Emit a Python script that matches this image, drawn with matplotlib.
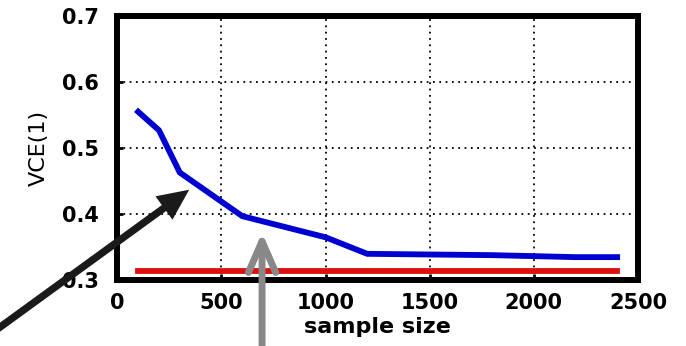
import matplotlib.pyplot as plt

# -----------------------------------
# Data
# -----------------------------------
sample_size = [100, 200, 300, 600, 1000, 1200, 1500, 1800, 2200, 2400]
vce_blue = [0.555, 0.527, 0.463, 0.397, 0.365, 0.340, 0.339, 0.338, 0.335, 0.335]
red_x = [100, 2400]
red_y = [0.314, 0.314]

x_ticks = [0, 500, 1000, 1500, 2000, 2500]
y_ticks = [0.3, 0.4, 0.5, 0.6, 0.7]

plt.rcParams['font.family'] = ['DejaVu Sans']

fig = plt.figure(figsize=(6.86, 3.46), dpi=100)
ax = fig.add_axes([0.171, 0.19, 0.759, 0.764])

ax.plot(sample_size, vce_blue, color='#0000d0', lw=4.2, solid_joinstyle='miter')
ax.plot(red_x, red_y, color='#dd1010', lw=4.2)

ax.set_xlim(0, 2500)
ax.set_ylim(0.3, 0.7)
ax.set_xticks(x_ticks)
ax.set_yticks(y_ticks)
ax.set_xticklabels([str(t) for t in x_ticks], fontsize=15, fontweight='bold')
ax.set_yticklabels(['%.1f' % t for t in y_ticks], fontsize=15, fontweight='bold')
ax.tick_params(axis='x', direction='in', length=4, width=2, pad=9)
ax.tick_params(axis='y', direction='in', length=4, width=2, pad=13)
ax.grid(True, color='black', linestyle=(0, (1, 2.5)), lw=1.3)

for s in ax.spines.values():
    s.set_linewidth(4.3)

ax.set_ylabel('VCE(1)', fontsize=16, labelpad=10)
ax.set_xlabel('sample size', fontsize=16, fontweight='bold', labelpad=3)

# -----------------------------------
# Arrows
# -----------------------------------
ax.annotate('', xy=(345, 0.437), xycoords='data',
            xytext=(-0.01, 0.04), textcoords='figure fraction',
            annotation_clip=False,
            arrowprops=dict(arrowstyle='simple,head_width=1.3,head_length=1.4,tail_width=0.33',
                            mutation_scale=16, color='#1a1a1a', lw=0,
                            shrinkA=0, shrinkB=0))
ax.annotate('', xy=(695, 0.372), xycoords='data',
            xytext=(0.382, -0.02), textcoords='figure fraction',
            annotation_clip=False,
            arrowprops=dict(arrowstyle='->,head_length=1.6,head_width=0.7',
                            mutation_scale=14, color='#888888', lw=5,
                            capstyle='round', joinstyle='round',
                            shrinkA=0, shrinkB=0))

fig.savefig('out.png', dpi=100)
